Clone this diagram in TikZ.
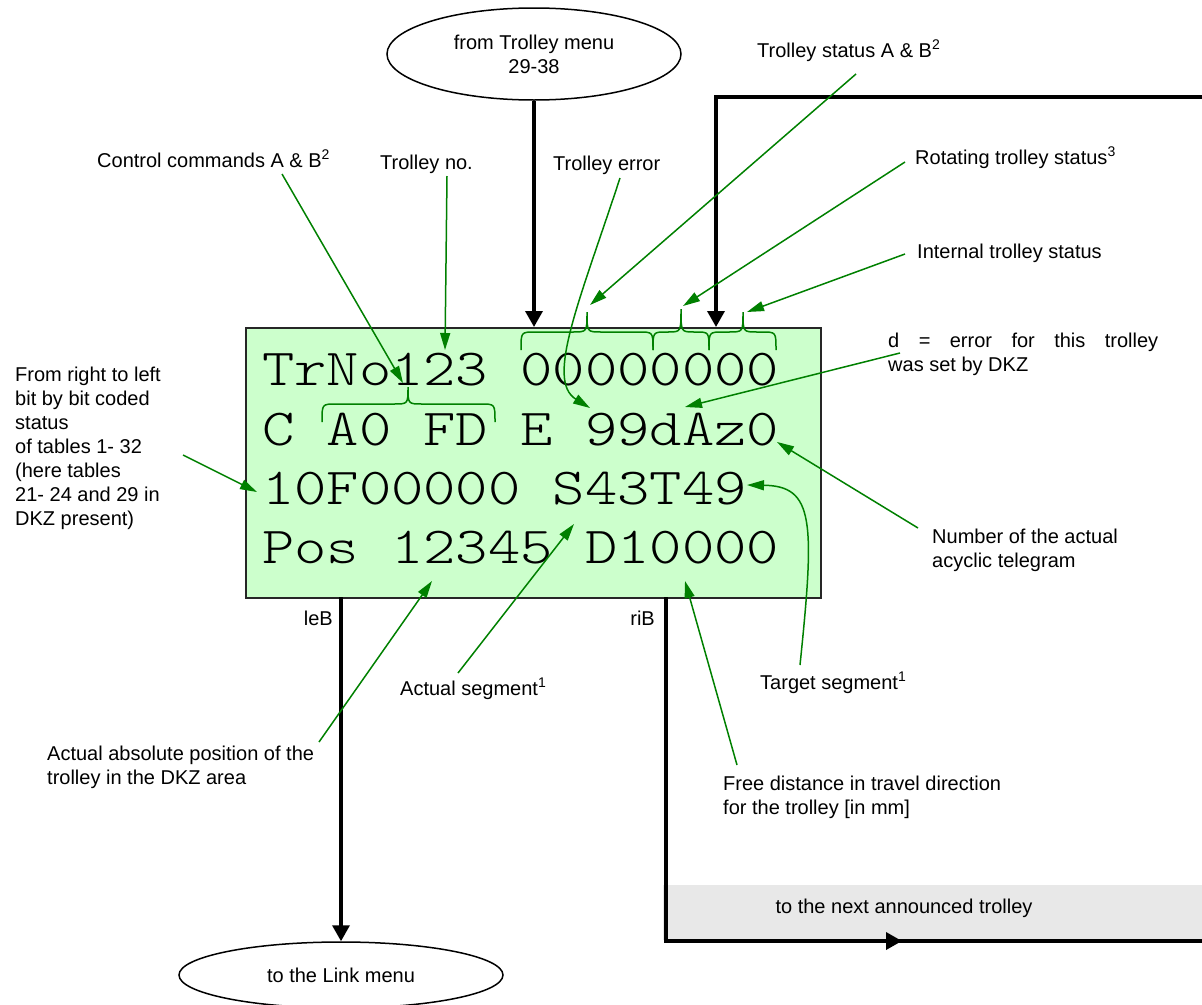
\documentclass[tikz,border=0pt]{standalone}
\usepackage{fontspec}
\setmainfont{Liberation Sans}
\newfontfamily\lcdfont[FakeStretch=1.183]{lmmonolt10-regular.otf}
\usetikzlibrary{arrows.meta,shapes.geometric,decorations.markings}
\definecolor{arrgreen}{RGB}{0,128,0}
\definecolor{lcdfill}{RGB}{204,255,204}
\definecolor{bandgray}{RGB}{232,232,232}
\newcommand\lcdbrace[7]{\draw[gbrace] (#1,#4) .. controls (#1,#5) .. ({#1+#7},#5) -- ({#3-#7},#5) .. controls (#3,#5) .. (#3,#6) .. controls (#3,#5) .. ({#3+#7},#5) -- ({#2-#7},#5) .. controls (#2,#5) .. (#2,#4);}
\begin{document}
\begin{tikzpicture}[x=1pt,y=-1pt,
  lbl/.style={inner sep=0pt, font=\fontsize{20}{24}\selectfont, align=left},
  lcdrow/.style={inner sep=0pt, anchor=base west, font=\fontsize{52}{60}\selectfont\lcdfont},
  garrow/.style={draw=arrgreen, line width=1.5pt, -{Triangle[length=17pt,width=10pt]}},
  gbrace/.style={draw=arrgreen, line width=1.5pt},
  thickarrow/.style={draw=black, line width=3.5pt, -{Triangle[length=16pt,width=17pt]}},
  thickline/.style={draw=black, line width=3.5pt},
  bubble/.style={ellipse, draw=black, line width=1.5pt, inner sep=0pt, font=\fontsize{20}{24}\selectfont, align=center}
]
\useasboundingbox (0,0) rectangle (1202,1004);

% gray band
\fill[bandgray] (663,885) rectangle (1210,940);
\node[lbl, anchor=base] (lblnext) at (904,913) {to the next announced trolley};

% display box
\node[draw=black!85, line width=2pt, fill=lcdfill, minimum width=575pt, minimum height=270pt, inner sep=0pt, anchor=north west] (lcd) at (245,327) {};

% ellipses
\node[bubble, minimum width=294pt, minimum height=92pt] (fromtm) at (534,54) {from Trolley menu\\29-38};
\node[bubble, minimum width=324pt, minimum height=66pt] (linkm) at (341,975) {to the Link menu};

% black flow lines
\coordinate (inB) at (716,327);
\coordinate (loopR) at (1212,97);
\coordinate (leB) at (341,597);
\coordinate (riB) at (666,597);
\coordinate (loopB) at (1212,941);
\draw[thickarrow] (fromtm.south) -- (fromtm.south |- lcd.north);
\draw[thickarrow] (loopR) -- (loopR -| inB) -- (inB);
\draw[thickarrow] (leB) -- (linkm.north);
\draw[thickline, decoration={markings, mark=at position 580pt with {\arrow{Triangle[length=16pt,width=17pt]}}}, postaction={decorate}] (riB) -- (riB |- loopB) -- (loopB);

% display rows
\node[lcdrow] (row1) at (262,385) {TrNo123 00000000};
\node[lcdrow] (row2) at (262,445) {C A0 FD E 99dAz0};
\node[lcdrow] (row3) at (262,504) {10F00000 S43T49};
\node[lcdrow] (row4) at (262,563) {Pos 12345 D10000};

% braces
\lcdbrace{521}{653}{587}{350}{332}{312}{14}
\lcdbrace{653}{709}{681}{350}{332}{309}{13}
\lcdbrace{709}{776}{743}{350}{332}{312}{14}
\lcdbrace{322}{495}{408}{422}{404}{387}{14}

% labels
\node[lbl, anchor=base west] (lblctrl) at (97,167) {Control commands A \& B\textsuperscript{2}};
\node[lbl, anchor=base west] (lbltrno) at (380,169) {Trolley no.};
\node[lbl, anchor=base west] (lblterr) at (553,170) {Trolley error};
\node[lbl, anchor=base west] (lblstat) at (757,57) {Trolley status A \& B\textsuperscript{2}};
\node[lbl, anchor=base west] (lblrot) at (915,164) {Rotating trolley status\textsuperscript{3}};
\node[lbl, anchor=base west] (lblint) at (917,258) {Internal trolley status};
\node[lbl, anchor=north west] (lbld) at (888,332.5) {\makebox[270pt][s]{d = error for this trolley}\\was set by DKZ};
\node[lbl, anchor=north west] (lblnum) at (932,528.5) {Number of the actual\\acyclic telegram};
\node[lbl, anchor=base west] (lbltgt) at (760,689) {Target segment\textsuperscript{1}};
\node[lbl, anchor=base west] (lblact) at (400,695) {Actual segment\textsuperscript{1}};
\node[lbl, anchor=base east] (lblleb) at (333,625) {leB};
\node[lbl, anchor=base east] (lblrib) at (655,625) {riB};
\node[lbl, anchor=north west] (lblabs) at (47,745.5) {Actual absolute position of the\\trolley in the DKZ area};
\node[lbl, anchor=north west] (lblfree) at (723,775.5) {Free distance in travel direction\\for the trolley [in mm]};
\node[lbl, anchor=north west] (lblbits) at (15,366.5) {From right to left\\bit by bit coded\\status\\of tables 1- 32\\(here tables\\21- 24 and 29 in\\DKZ present)};

% green arrow end points
\coordinate (tCtrl) at (282,174);  \coordinate (hCtrl) at (403,383);
\coordinate (tTrno) at (447,176);  \coordinate (hTrno) at (445,350);
\coordinate (tErr)  at (620,178);  \coordinate (hErr)  at (590,408);
\coordinate (tStat) at (856,74);   \coordinate (hStat) at (590,305);
\coordinate (tRot)  at (905,162);  \coordinate (hRot)  at (683,306);
\coordinate (tInt)  at (905,254);  \coordinate (hInt)  at (747,312);
\coordinate (tD)    at (900,353);  \coordinate (hD)    at (685,407);
\coordinate (tNum)  at (918,528);  \coordinate (hNum)  at (777,442);
\coordinate (tTgt)  at (800,665);  \coordinate (hTgt)  at (747,485);
\coordinate (tAct)  at (458,673);  \coordinate (hAct)  at (574,524);
\coordinate (tAbs)  at (319,742);  \coordinate (hAbs)  at (432,581);
\coordinate (tFree) at (737,765);  \coordinate (hFree) at (685,581);
\coordinate (tBits) at (183,455);  \coordinate (hBits) at (257,492);

% green arrows
\draw[garrow] (tCtrl) -- (hCtrl);
\draw[garrow] (tTrno) -- (hTrno);
\draw[garrow] (tErr) .. controls (580,300) and (545,380) .. (hErr);
\draw[garrow] (tStat) -- (hStat);
\draw[garrow] (tRot) -- (hRot);
\draw[garrow] (tInt) -- (hInt);
\draw[garrow] (tD) -- (hD);
\draw[garrow] (tNum) -- (hNum);
\draw[garrow] (tTgt) .. controls (815,520) and (814,486) .. (hTgt);
\draw[garrow] (tAct) -- (hAct);
\draw[garrow] (tAbs) -- (hAbs);
\draw[garrow] (tFree) -- (hFree);
\draw[garrow] (tBits) -- (hBits);
\end{tikzpicture}
\end{document}
